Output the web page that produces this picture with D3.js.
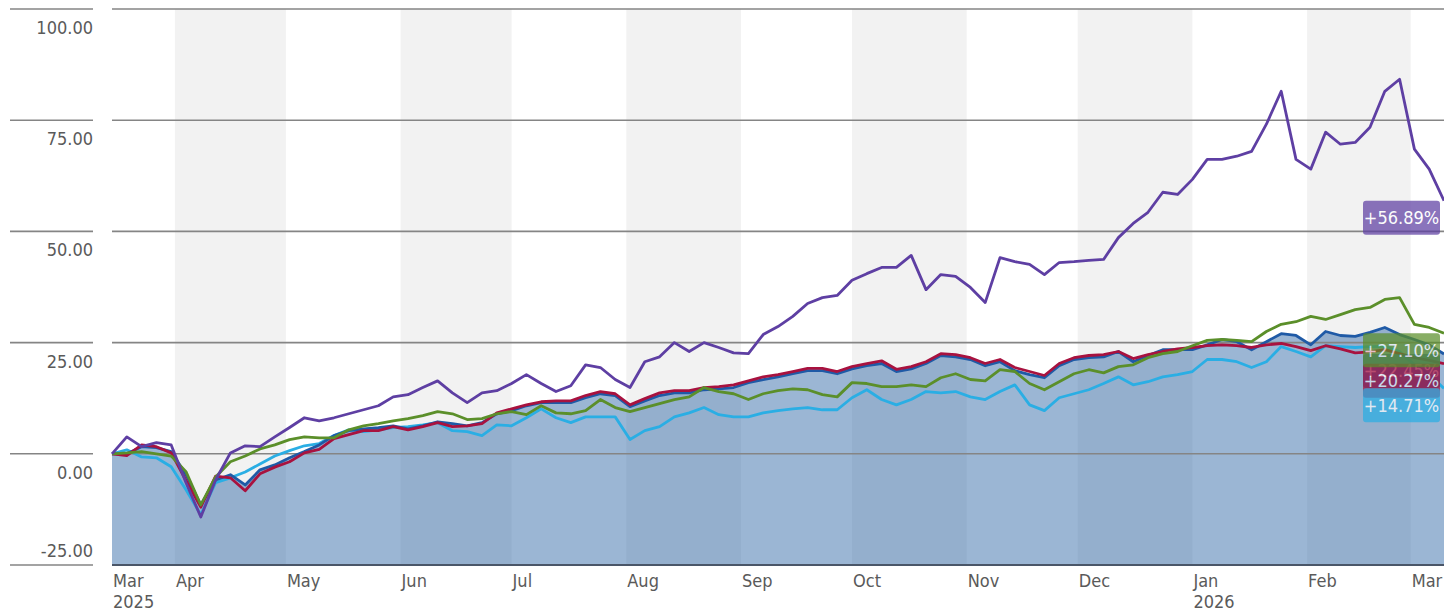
<!DOCTYPE html>
<html>
<head>
<meta charset="utf-8">
<script src="https://cdn.jsdelivr.net/npm/d3@7"></script>
<style>
  body { margin: 0; background: #fff; }
  text { font-family: "DejaVu Sans Condensed", "DejaVu Sans", sans-serif; font-stretch: condensed; }
</style>
</head>
<body>
<svg id="chart"></svg>
<script>
// one point every 4 days, 15 Mar 2025 -> 10 Mar 2026
const startDate = new Date(2025, 2, 15);
const stepDays = 4;

// cumulative return, %
const purpleVals = [0, 3.8, 1.6, 2.5, 2.0, -6.5, -14.2, -5.9, 0.2, 1.8,
  1.6, 3.8, 5.9, 8.1, 7.4, 8.1, 9.0, 9.9, 10.8, 12.8,
  13.3, 14.9, 16.4, 13.7, 11.5, 13.7, 14.2, 15.8, 17.8, 15.8,
  14.0, 15.3, 20.0, 19.4, 16.7, 14.9, 20.7, 21.8, 25.0, 23.0,
  25.0, 23.9, 22.7, 22.5, 26.8, 28.6, 30.9, 33.8, 35.1, 35.6,
  39.0, 40.5, 41.9, 41.9, 44.6, 36.9, 40.3, 39.9, 37.4, 34.0,
  44.1, 43.2, 42.6, 40.3, 43.0, 43.2, 43.5, 43.7, 48.6, 51.8,
  54.3, 58.8, 58.3, 61.7, 66.2, 66.2, 66.9, 68.0, 74.1, 81.5,
  66.2, 64.0, 72.3, 69.6, 70.0, 73.4, 81.5, 84.2, 68.5, 64.0,
  56.89];

const greenVals = [0, 0.2, 0.5, 0, -0.5, -4.0, -11.5, -5.2, -1.8, -0.5,
  1.1, 2.0, 3.2, 3.8, 3.6, 3.6, 5.4, 6.3, 6.8, 7.4,
  7.9, 8.6, 9.5, 9.0, 7.7, 7.9, 9.0, 9.5, 8.8, 10.8,
  9.2, 9.0, 9.7, 12.2, 10.4, 9.5, 10.4, 11.3, 12.2, 12.8,
  14.9, 14.0, 13.5, 12.2, 13.5, 14.2, 14.6, 14.4, 13.3, 12.8,
  16.0, 15.8, 15.1, 15.1, 15.5, 15.1, 17.1, 18.0, 16.7, 16.4,
  18.9, 18.5, 15.8, 14.4, 16.2, 18.0, 18.9, 18.2, 19.6, 20.0,
  21.6, 22.5, 23.0, 24.3, 25.5, 25.7, 25.5, 25.2, 27.5, 29.1,
  29.7, 30.9, 30.2, 31.3, 32.4, 32.9, 34.7, 35.1, 29.1, 28.4,
  27.10];

const blueVals = [0, 0, 1.6, 1.4, 0.5, -4.7, -11.5, -5.9, -4.7, -7.0,
  -3.6, -2.5, -0.9, 0.5, 2.0, 4.1, 5.2, 5.6, 5.9, 6.3,
  5.6, 6.3, 7.2, 6.8, 6.3, 7.0, 9.0, 9.7, 10.8, 11.5,
  11.5, 11.5, 12.6, 13.5, 13.1, 10.6, 11.9, 13.1, 13.7, 13.7,
  14.4, 14.6, 14.9, 16.0, 16.7, 17.3, 18.0, 18.7, 18.7, 18.0,
  19.1, 19.8, 20.3, 18.5, 19.1, 20.3, 22.1, 21.8, 21.2, 19.8,
  20.7, 18.7, 17.8, 17.1, 19.8, 21.2, 21.6, 21.8, 23.0, 20.7,
  22.1, 23.4, 23.4, 23.4, 24.5, 25.7, 25.2, 23.4, 25.2, 27.0,
  26.6, 24.5, 27.5, 26.6, 26.4, 27.3, 28.4, 26.8, 25.7, 24.5,
  22.45];

const maroonVals = [0, -0.4, 2.0, 1.6, 0.2, -6.0, -12.0, -5.0, -5.4, -8.3,
  -4.5, -3.0, -1.8, 0.2, 1.0, 3.4, 4.3, 5.2, 5.2, 6.1,
  5.4, 6.1, 7.0, 6.1, 6.3, 6.8, 9.2, 10.1, 11.0, 11.7,
  11.9, 11.9, 13.1, 14.0, 13.5, 11.0, 12.4, 13.7, 14.2, 14.2,
  14.9, 15.1, 15.5, 16.4, 17.3, 17.8, 18.5, 19.2, 19.2, 18.5,
  19.6, 20.3, 20.9, 19.0, 19.6, 20.7, 22.5, 22.3, 21.6, 20.3,
  21.2, 19.4, 18.5, 17.6, 20.3, 21.6, 22.1, 22.3, 23.0, 21.4,
  22.3, 23.0, 23.6, 23.9, 24.3, 24.5, 24.3, 23.9, 24.5, 24.8,
  24.1, 23.2, 24.3, 23.6, 22.7, 22.9, 23.4, 22.5, 21.6, 21.0,
  20.27];

const cyanVals = [0, 0.9, -0.7, -0.9, -2.9, -8.1, -13.7, -6.5, -5.4, -4.1,
  -2.3, -0.5, 0.7, 1.8, 2.3, 4.1, 5.4, 5.0, 5.4, 5.9,
  6.1, 6.5, 7.0, 5.2, 5.0, 4.1, 6.5, 6.3, 8.1, 10.1,
  8.1, 7.0, 8.3, 8.3, 8.3, 3.2, 5.2, 6.1, 8.3, 9.2,
  10.4, 8.8, 8.3, 8.3, 9.2, 9.7, 10.1, 10.4, 9.9, 9.9,
  12.6, 14.4, 12.2, 11.0, 12.2, 14.0, 13.7, 14.0, 12.8, 12.2,
  14.0, 15.5, 11.0, 9.7, 12.6, 13.5, 14.4, 15.8, 17.3, 15.5,
  16.2, 17.3, 17.8, 18.5, 21.2, 21.2, 20.7, 19.4, 20.7, 24.1,
  23.0, 21.8, 24.3, 24.1, 23.9, 24.1, 24.1, 23.0, 20.0, 17.8,
  14.71];

const yTicks = [-25, 0, 25, 50, 75, 100];
const shadedMonths = ["2025-04", "2025-06", "2025-08", "2025-10", "2025-12", "2026-02"];

const width = 1444;
const height = 611;
const left = 112;

const dates = purpleVals.map(function(d, i) { return d3.timeDay.offset(startDate, i * stepDays); });

const svg = d3.select("#chart")
    .attr("width", width)
    .attr("height", height);

const x = d3.scaleTime()
    .domain([dates[0], dates[dates.length - 1]])
    .range([left, width]);

const y = d3.scaleLinear()
    .domain([-25, 100])
    .range([565, 9]);

// alternate month shading
const parseMonth = d3.timeParse("%Y-%m");
shadedMonths.forEach(function(m) {
    const m0 = parseMonth(m);
    const m1 = d3.timeMonth.offset(m0, 1);
    const x0 = Math.max(left, x(m0));
    const x1 = Math.min(width, x(m1));
    svg.append("rect")
        .attr("x", x0)
        .attr("y", y(100))
        .attr("width", x1 - x0)
        .attr("height", y(-25) - y(100))
        .attr("fill", "#f2f2f2");
});

// fund area (follows the dark blue series)
const area = d3.area()
    .x(function(d, i) { return x(dates[i]); })
    .y0(y(-25))
    .y1(function(d) { return y(d); });

svg.append("path")
    .datum(blueVals)
    .attr("d", area)
    .attr("fill", "#2d67a6")
    .attr("fill-opacity", 0.48);

// grid lines + y labels
yTicks.forEach(function(t) {
    svg.append("line")
        .attr("x1", 10).attr("x2", 93)
        .attr("y1", y(t)).attr("y2", y(t))
        .attr("stroke", "#858585")
        .attr("stroke-width", 1.6);

    if (t > -25) {
        svg.append("line")
            .attr("x1", left).attr("x2", width)
            .attr("y1", y(t)).attr("y2", y(t))
            .attr("stroke", "#858585")
            .attr("stroke-width", 1.6);
    }

    svg.append("text")
        .attr("x", 93)
        .attr("y", t === -25 ? y(t) - 8 : y(t) + 25)
        .attr("text-anchor", "end")
        .attr("font-size", "18px")
        .attr("fill", "#5a5a5a")
        .text(t.toFixed(2));
});

// bottom axis line
svg.append("line")
    .attr("x1", left).attr("x2", width)
    .attr("y1", y(-25)).attr("y2", y(-25))
    .attr("stroke", "#4a5668")
    .attr("stroke-width", 2);

// x labels
const xTicks = [dates[0]].concat(d3.timeMonth.range(new Date(2025, 3, 1), d3.timeDay.offset(dates[dates.length - 1], 1)));
const fmtMonth = d3.timeFormat("%b");

xTicks.forEach(function(d, i) {
    svg.append("text")
        .attr("x", x(d) + 1)
        .attr("y", 587)
        .attr("font-size", "18px")
        .attr("fill", "#5a5a5a")
        .text(fmtMonth(d));

    if (i === 0 || d.getMonth() === 0) {
        svg.append("text")
            .attr("x", x(d) + 1)
            .attr("y", 608)
            .attr("font-size", "18px")
            .attr("fill", "#5a5a5a")
            .text(d.getFullYear());
    }
});

// lines
const series = [
    { key: "cyan", values: cyanVals, color: "#2aaee4" },
    { key: "blue", values: blueVals, color: "#1f5aa6" },
    { key: "maroon", values: maroonVals, color: "#a8123f" },
    { key: "green", values: greenVals, color: "#5b8f2a" },
    { key: "purple", values: purpleVals, color: "#5e3fa3" }
];

const line = d3.line()
    .x(function(d, i) { return x(dates[i]); })
    .y(function(d) { return y(d); });

series.forEach(function(s) {
    svg.append("path")
        .datum(s.values)
        .attr("d", line)
        .attr("fill", "none")
        .attr("stroke", s.color)
        .attr("stroke-width", 2.8)
        .attr("stroke-linejoin", "round");
});

// end value labels, drawn lowest-first so they stack like the original
const labelOrder = ["blue", "maroon", "cyan", "green", "purple"];
const boxH = 34;

labelOrder.forEach(function(k) {
    const s = series.find(function(d) { return d.key === k; });
    const last = s.values[s.values.length - 1];
    const top = y(last);
    const g = svg.append("g").attr("opacity", 0.72);

    g.append("rect")
        .attr("x", 1363)
        .attr("y", top)
        .attr("width", 77)
        .attr("height", boxH)
        .attr("rx", 3)
        .attr("fill", s.color);

    g.append("text")
        .attr("x", 1401.5)
        .attr("y", top + boxH / 2)
        .attr("dy", "0.36em")
        .attr("text-anchor", "middle")
        .attr("font-size", "18px")
        .attr("fill", "white")
        .text("+" + last.toFixed(2) + "%");
});
</script>
</body>
</html>
